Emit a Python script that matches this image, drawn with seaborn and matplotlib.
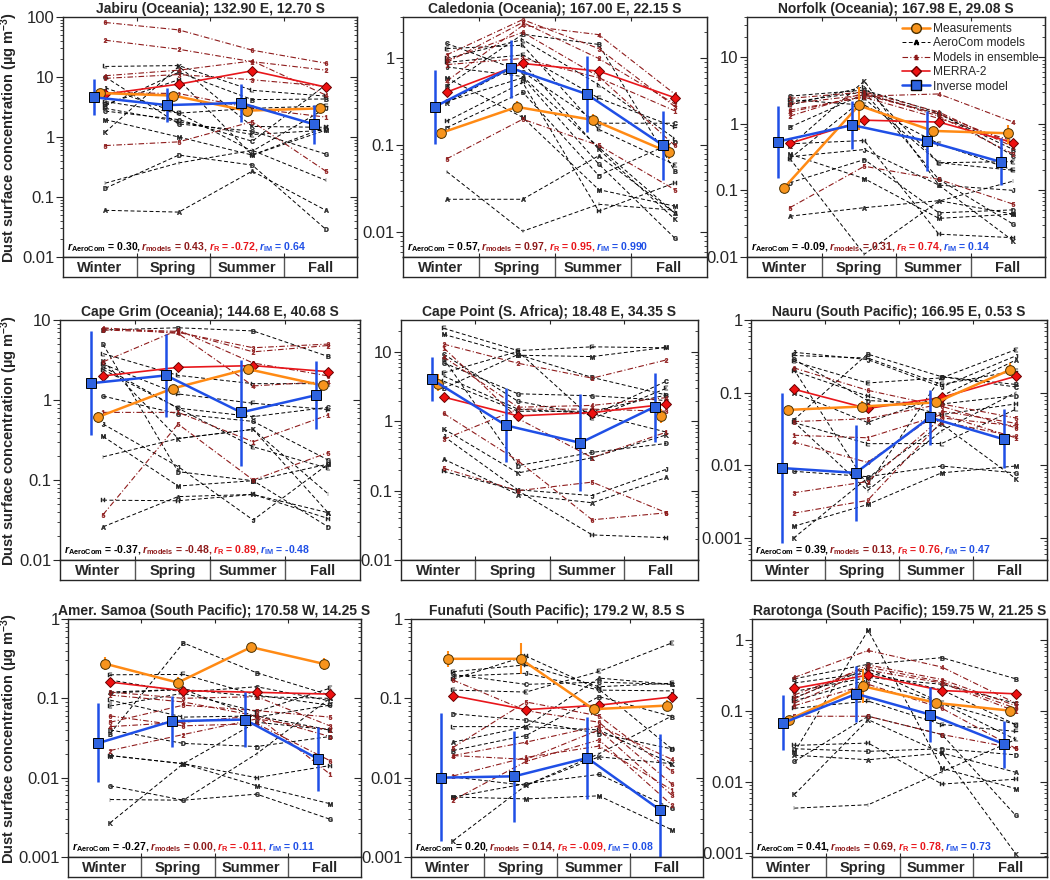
import numpy as np
import pandas as pd
import matplotlib
matplotlib.use("Agg")
import matplotlib.pyplot as plt
from matplotlib.lines import Line2D
from matplotlib.ticker import LogLocator, NullFormatter, FuncFormatter, FixedLocator
import seaborn as sns

sns.set_style("ticks")
plt.rcParams['font.family'] = ['Liberation Sans', 'DejaVu Sans']
plt.rcParams['mathtext.fontset'] = 'custom'
plt.rcParams['mathtext.rm'] = 'Liberation Sans:bold'
plt.rcParams['mathtext.it'] = 'Liberation Sans:italic:bold'
plt.rcParams['mathtext.bf'] = 'Liberation Sans:bold'

seasons = ["Winter", "Spring", "Summer", "Fall"]
letters = list("ABCDEFGHIJKLM")
ens_names = ["1", "2", "3", "4", "5", "6"]

titles = ["Jabiru (Oceania); 132.90 E, 12.70 S",
          "Caledonia (Oceania); 167.00 E, 22.15 S",
          "Norfolk (Oceania); 167.98 E, 29.08 S",
          "Cape Grim (Oceania); 144.68 E, 40.68 S",
          "Cape Point (S. Africa); 18.48 E, 34.35 S",
          "Nauru (South Pacific); 166.95 E, 0.53 S",
          "Amer. Samoa (South Pacific); 170.58 W, 14.25 S",
          "Funafuti (South Pacific); 179.2 W, 8.5 S",
          "Rarotonga (South Pacific); 159.75 W, 21.25 S"]

# measurements (orange) and their error range
meas = [[5.4, 4.9, 2.75, 3.0], [0.139, 0.277, 0.196, 0.083], [0.11, 1.88, 0.78, 0.72],
        [0.61, 1.39, 2.44, 1.52], [3.5, np.nan, np.nan, 1.2], [0.058, 0.0646, 0.0735, 0.206],
        [0.274, 0.158, 0.442, 0.271], [0.315, 0.315, 0.073, 0.081], [0.076, 0.226, 0.131, 0.102]]
meas_lo = [[4.8, 4.3, 2.4, 2.7], [0.12, 0.24, 0.17, 0.07], [0.1, 0.8, 0.7, 0.5],
           [0.52, 1.25, 2.2, 1.35], [2.7, np.nan, np.nan, 0.95], [0.05, 0.055, 0.063, 0.17],
           [0.23, 0.135, 0.39, 0.23], [0.25, 0.2, 0.065, 0.07], [0.07, 0.13, 0.12, 0.093]]
meas_hi = [[6.0, 5.6, 3.1, 3.3], [0.16, 0.32, 0.23, 0.1], [0.12, 3.5, 0.85, 0.95],
           [0.7, 1.55, 2.7, 1.7], [4.8, np.nan, np.nan, 1.5], [0.066, 0.078, 0.085, 0.26],
           [0.33, 0.185, 0.5, 0.32], [0.4, 0.5, 0.085, 0.095], [0.083, 0.39, 0.145, 0.112]]

merra2 = [[5.2, 7.6, 12.7, 6.8], [0.41, 0.876, 0.715, 0.354], [0.507, 1.13, 1.06, 0.52],
          [2.0, 2.56, 2.69, 2.26], [2.24, 1.2, 1.34, 1.77], [0.112, 0.0607, 0.086, 0.168],
          [0.16, 0.125, 0.119, 0.113], [0.108, 0.072, 0.082, 0.104], [0.21, 0.324, 0.196, 0.176]]

inverse = [[4.6, 3.4, 3.7, 1.63], [0.277, 0.78, 0.39, 0.101], [0.54, 0.955, 0.55, 0.266],
           [1.62, 2.03, 0.70, 1.15], [4.04, 0.875, 0.49, 1.62], [0.0092, 0.0079, 0.0456, 0.0229],
           [0.0273, 0.0515, 0.054, 0.0172], [0.01, 0.0104, 0.0177, 0.0039], [0.068, 0.176, 0.0897, 0.0345]]
inverse_lo = [[2.3, 1.75, 1.75, 0.77], [0.103, 0.35, 0.144, 0.04], [0.155, 0.42, 0.195, 0.122],
              [0.36, 0.62, 0.151, 0.43], [1.96, 0.256, 0.1, 0.51], [0.00085, 0.00173, 0.0193, 0.0091],
              [0.0087, 0.0242, 0.0247, 0.0067], [0.0016, 0.0028, 0.0054, 0.001], [0.0287, 0.07, 0.0368, 0.0157]]
inverse_hi = [[9.3, 6.6, 7.6, 3.4], [0.73, 1.65, 1.08, 0.25], [1.84, 2.2, 1.55, 0.62],
              [7.3, 6.7, 3.2, 3.1], [8.4, 3.06, 2.45, 5.05], [0.1, 0.0364, 0.11, 0.059],
              [0.088, 0.107, 0.12, 0.0436], [0.066, 0.0386, 0.058, 0.036], [0.168, 0.43, 0.219, 0.074]]

# correlation coefficients: AeroCom, models, MERRA-2 (R), inverse model (IM)
r_aerocom = ["0.30", "0.57", "-0.09", "-0.37", None, "0.39", "-0.27", "0.20", "0.41"]
r_models = ["0.43", "0.97", "0.31", "-0.48", None, "0.13", "0.00", "0.14", "0.69"]
r_merra = ["-0.72", "0.95", "0.74", "0.89", None, "0.76", "-0.11", "-0.09", "0.78"]
r_im = ["0.64", "0.990", "0.14", "-0.48", None, "0.47", "0.11", "0.08", "0.73"]

# AeroCom models A..M, one row per model (Winter, Spring, Summer, Fall)
aerocom_jabiru = [[0.06, 0.056, 0.27, 0.06], [3.3, 12, 4.2, 4.3], [2.7, 1.95, 0.85, 7.4],
                  [0.14, 0.5, 0.34, 0.029], [3.0, 1.8, 1.1, 1.3], [3.9, 2.5, 3.0, 3.3],
                  [10, 1.65, 1.25, 0.52], [3.5, 9, 0.5, 1.45], [0.17, 0.37, 0.6, 0.19],
                  [6.6, 2.5, 0.58, 3.0], [1.2, 15, 1.5, 1.45], [15, 15.5, 6, 4.8],
                  [1.95, 1.0, 0.5, 1.3]]
aerocom_caledonia = [[0.024, 0.024, 0.076, 0.0167], [0.48, 1.9, 1.45, 0.051], [1.49, 0.7, 0.18, 0.18],
                     [0.16, 0.41, 0.045, 0.11], [1.30, 1.42, 0.153, 0.06], [0.9, 1.1, 0.35, 0.163],
                     [0.32, 0.6, 0.061, 0.0086], [0.19, 0.53, 0.0175, 0.037], [0.05, 0.0103, 0.021, 0.018],
                     [0.8, 0.62, 0.095, 0.0167], [0.31, 0.9, 0.09, 0.0142], [1.0, 1.65, 0.5, 0.12],
                     [0.6, 0.21, 0.031, 0.02]]
aerocom_norfolk = [[0.041, 0.055, 0.07, 0.044], [0.89, 2.8, 1.4, 0.41], [2.6, 3.2, 1.46, 0.33],
                   [0.13, 0.29, 0.046, 0.051], [0.3, 2.4, 0.26, 0.27], [2.3, 1.9, 0.5, 0.2],
                   [2.1, 3.0, 0.146, 0.031], [0.5, 0.56, 0.022, 0.0195], [0.3, 0.011, 0.069, 0.138],
                   [0.32, 0.41, 0.12, 0.1], [0.46, 4.4, 0.12, 0.0174], [1.9, 3.6, 0.26, 0.2],
                   [0.35, 0.15, 0.038, 0.044]]
aerocom_capegrim = [[0.026, 0.062, 0.066, 0.039], [7.5, 8.0, 7.3, 3.5], [2.6, 0.79, 0.62, 0.81],
                    [4.96, 0.127, 0.098, 0.026], [2.4, 0.79, 0.26, 0.14], [2.8, 1.19, 0.91, 0.76],
                    [1.12, 0.67, 0.54, 0.178], [0.056, 0.055, 0.066, 0.033], [0.195, 0.33, 0.43, 0.067],
                    [0.5, 0.147, 0.0316, 0.158], [3.07, 0.33, 0.43, 0.039], [3.8, 2.03, 1.6, 1.6],
                    [0.35, 0.084, 0.098, 0.158]]
aerocom_capepoint = [[0.286, 0.088, 0.067, 0.155], [3.0, 9.2, 4.3, 2.4], [9.3, 1.95, 1.22, 3.8],
                     [8.0, 0.23, 0.357, 0.48], [5.0, 10.2, 1.1, 3.0], [22, 10.5, 11.9, 11.5],
                     [7.0, 2.5, 2.34, 2.0], [0.19, 0.1, 0.023, 0.021], [4.5, 1.5, 1.3, 0.7],
                     [0.61, 0.103, 0.085, 0.204], [0.78, 0.18, 0.3, 0.64], [3.8, 1.4, 1.4, 2.4],
                     [18, 9.0, 8.6, 11.7]]
aerocom_nauru = [[0.1, 0.039, 0.09, 0.28], [0.042, 0.34, 0.166, 0.13], [0.213, 0.0053, 0.166, 0.12],
                 [0.29, 0.078, 0.07, 0.091], [0.27, 0.136, 0.16, 0.39], [0.325, 0.3, 0.13, 0.2],
                 [0.0083, 0.007, 0.0098, 0.0079], [0.2, 0.09, 0.05, 0.07], [0.04, 0.0045, 0.03, 0.1],
                 [0.36, 0.286, 0.12, 0.32], [0.001, 0.0067, 0.037, 0.0066], [0.039, 0.0199, 0.02, 0.059],
                 [0.00145, 0.0029, 0.0079, 0.0098]]
aerocom_samoa = [[0.12, 0.13, 0.105, 0.1], [0.036, 0.5, 0.21, 0.11], [0.17, 0.12, 0.14, 0.093],
                 [0.04, 0.027, 0.0247, 0.033], [0.08, 0.116, 0.068, 0.134], [0.198, 0.2, 0.11, 0.082],
                 [0.0079, 0.0052, 0.0062, 0.003], [0.019, 0.015, 0.01, 0.0142], [0.0053, 0.0052, 0.02, 0.1],
                 [0.116, 0.13, 0.058, 0.082], [0.0027, 0.015, 0.05, 0.04], [0.095, 0.058, 0.06, 0.04],
                 [0.019, 0.015, 0.0079, 0.0047]]
aerocom_funafuti = [[0.028, 0.044, 0.18, 0.15], [0.022, 0.034, 0.105, 0.059], [0.2, 0.15, 0.16, 0.15],
                    [0.064, 0.053, 0.036, 0.023], [0.127, 0.12, 0.218, 0.5], [0.217, 0.264, 0.14, 0.155],
                    [0.0057, 0.0084, 0.011, 0.0041], [0.175, 0.34, 0.13, 0.023], [0.0102, 0.008, 0.02, 0.06],
                    [0.19, 0.207, 0.127, 0.124], [0.0016, 0.008, 0.0183, 0.015], [0.044, 0.044, 0.04, 0.015],
                    [0.0057, 0.0054, 0.0059, 0.0022]]
aerocom_rarotonga = [[0.024, 0.0207, 0.0257, 0.0138], [0.287, 0.46, 0.57, 0.287], [0.19, 0.3, 0.24, 0.13],
                     [0.0296, 0.0272, 0.0296, 0.0243], [0.155, 0.4, 0.13, 0.065], [0.11, 0.139, 0.065, 0.052],
                     [0.0196, 0.085, 0.047, 0.0034], [0.033, 0.0356, 0.0094, 0.011], [0.0043, 0.0048, 0.014, 0.04],
                     [0.25, 0.35, 0.2, 0.065], [0.0067, 0.076, 0.0257, 0.00098], [0.14, 0.28, 0.13, 0.04],
                     [0.0265, 1.39, 0.0157, 0.0081]]

# models in ensemble 1..6
ens_jabiru = [[5.5, 5.3, 3.0, 2.15], [41, 29, 18, 13], [9.5, 11, 9.0, 7.0],
              [10.5, 13, 18.5, 5.0], [0.72, 0.83, 1.8, 0.27], [81, 61, 28, 17]]
ens_caledonia = [[0.85, 1.0, 0.6, 0.25], [0.9, 2.6, 1.0, 0.30], [1.1, 2.8, 1.3, 0.28],
                 [0.55, 2.4, 1.88, 0.39], [0.07, 0.2, 0.1, 0.031], [0.95, 2.0, 0.62, 0.1]]
ens_norfolk = [[2.4, 3.0, 1.5, 0.45], [1.3, 2.9, 1.3, 0.35], [2.0, 2.7, 1.4, 0.5],
               [1.5, 2.6, 2.8, 1.06], [0.055, 0.23, 0.146, 0.062], [1.6, 2.5, 1.2, 0.55]]
ens_capegrim = [[0.7, 0.7, 0.3, 0.65], [7.8, 7.2, 4.0, 4.8], [7.5, 7.0, 4.5, 5.0],
                [8.0, 6.8, 1.5, 1.7], [0.037, 0.5, 0.1, 0.22], [3.0, 7.5, 2.9, 2.0]]
ens_capepoint = [[11.5, 1.1, 0.3, 0.7], [13, 6.9, 4.2, 7.7], [0.55, 1.5, 1.5, 1.4],
                 [8.5, 1.6, 1.7, 2.2], [0.21, 0.1, 0.133, 0.048], [1.3, 0.27, 0.038, 0.048]]
ens_nauru = [[0.026, 0.024, 0.05, 0.024], [0.0022, 0.0033, 0.04, 0.025], [0.0042, 0.006, 0.045, 0.035],
             [0.021, 0.011, 0.056, 0.038], [0.04, 0.044, 0.07, 0.045], [0.22, 0.108, 0.065, 0.033]]
ens_samoa = [[0.11, 0.09, 0.06, 0.0111], [0.022, 0.035, 0.055, 0.04], [0.12, 0.1, 0.105, 0.045],
             [0.044, 0.05, 0.06, 0.033], [0.05, 0.082, 0.07, 0.058], [0.06, 0.045, 0.048, 0.0164]]
ens_funafuti = [[0.0105, 0.018, 0.025, 0.007], [0.0052, 0.016, 0.03, 0.0045], [0.019, 0.017, 0.04, 0.006],
                [0.019, 0.028, 0.045, 0.017], [0.024, 0.09, 0.06, 0.012], [0.17, 0.07, 0.05, 0.0083]]
ens_rarotonga = [[0.13, 0.38, 0.25, 0.1], [0.15, 0.45, 0.28, 0.12], [0.17, 0.42, 0.26, 0.11],
                 [0.3, 0.72, 0.42, 0.13], [0.085, 0.085, 0.047, 0.03], [0.12, 0.24, 0.11, 0.03]]

aerocom = [aerocom_jabiru, aerocom_caledonia, aerocom_norfolk, aerocom_capegrim, aerocom_capepoint,
           aerocom_nauru, aerocom_samoa, aerocom_funafuti, aerocom_rarotonga]
ensemble = [ens_jabiru, ens_caledonia, ens_norfolk, ens_capegrim, ens_capepoint,
            ens_nauru, ens_samoa, ens_funafuti, ens_rarotonga]

# layout (pixels)
W, H = 1050, 880
col_lr = [[(63, 357), (403, 707), (747, 1045)],
          [(60, 360), (401, 698), (751, 1047)],
          [(68, 361), (411, 703), (752, 1047)]]
row_tb = [(17, 257), (320, 560), (619, 857)]
ylims = [(0.01, 100), (0.0052, 3.0), (0.01, 40), (0.01, 10), (0.01, 29),
         (0.0005, 1.0), (0.001, 1.0), (0.001, 1.0), (0.00088, 2.0)]

c_meas = '#F7941D'
c_merra = '#E8161B'
c_im = '#1F4FE6'
c_ens = '#8E1B1B'

off_im, off_model = -0.085, 0.075


def to_frame(rows, names):
    recs = []
    for name, vals in zip(names, rows):
        for i, v in enumerate(vals):
            recs.append((name, i + off_model, v))
    return pd.DataFrame(recs, columns=['model', 'x', 'value'])


def draw_site(k, ax):
    ax.set_yscale('log')
    x = np.arange(4)
    df_a = to_frame(aerocom[k], letters)
    df_e = to_frame(ensemble[k], ens_names)
    sns.lineplot(data=df_a, x='x', y='value', units='model', estimator=None, color='black',
                 lw=0.7, linestyle=(0, (4, 2.5)), ax=ax, legend=False)
    sns.lineplot(data=df_e, x='x', y='value', units='model', estimator=None, color=c_ens,
                 lw=0.8, linestyle=(0, (5, 2, 1, 2)), ax=ax, legend=False)
    for name, vals in zip(letters, aerocom[k]):
        ax.plot(x + off_model, vals, ls='none', marker=r'$\mathrm{%s}$' % name, ms=3.2,
                color='#222222', mew=0.3)
    for name, vals in zip(ens_names, ensemble[k]):
        ax.plot(x + off_model, vals, ls='none', marker=r'$\mathrm{%s}$' % name, ms=3.2,
                color=c_ens, mew=0.3)

    sns.lineplot(x=x + off_model, y=merra2[k], color=c_merra, lw=1.2, marker='D', ms=5.5,
                 mfc='#EE1111', mec='#6A0000', mew=0.7, ax=ax)

    m = np.array(meas[k])
    ax.errorbar(x, m, yerr=[m - np.array(meas_lo[k]), np.array(meas_hi[k]) - m], color='#FF8A14',
                lw=1.8, marker='o', ms=7, mfc=c_meas, mec='#4a3000', mew=0.7, elinewidth=1.5,
                capsize=0, zorder=4)
    im = np.array(inverse[k])
    ax.errorbar(x + off_im, im, yerr=[im - np.array(inverse_lo[k]), np.array(inverse_hi[k]) - im],
                color=c_im, lw=1.8, marker='s', ms=6.5, mfc='#2E63E0', mec='black', mew=0.7,
                elinewidth=1.8, capsize=0, zorder=5)

    ax.set_xlim(-0.5, 3.5)
    ax.set_ylim(*ylims[k])
    ax.set_xlabel('')
    ax.set_ylabel('')
    ax.xaxis.set_major_locator(FixedLocator([0.5, 1.5, 2.5]))
    ax.tick_params(axis='x', which='both', direction='in', top=True, bottom=True,
                   labelbottom=False, length=3)
    ax.yaxis.set_major_locator(LogLocator(base=10))
    ax.yaxis.set_minor_locator(LogLocator(base=10, subs=np.arange(2, 10)))
    ax.yaxis.set_major_formatter(FuncFormatter(lambda v, p: f"{v:g}"))
    ax.yaxis.set_minor_formatter(NullFormatter())
    ax.tick_params(axis='y', which='major', direction='out', length=5, labelsize=12, pad=1)
    ax.tick_params(axis='y', which='minor', direction='out', length=2.5)
    sec = ax.secondary_yaxis('right')
    sec.yaxis.set_major_locator(LogLocator(base=10))
    sec.yaxis.set_minor_locator(LogLocator(base=10, subs=np.arange(2, 10)))
    sec.tick_params(axis='y', which='both', direction='in', labelright=False)
    sec.tick_params(axis='y', which='major', length=5)
    sec.tick_params(axis='y', which='minor', length=2.5)
    for sp in ax.spines.values():
        sp.set_linewidth(1.0)
    ax.set_title(titles[k], fontsize=10, fontweight='bold', pad=3)

    if r_aerocom[k] is not None:
        parts = [(r"$r_{\mathrm{AeroCom}}$ = %s, " % r_aerocom[k], 'black'),
                 (r"$r_{\mathrm{models}}$ = %s, " % r_models[k], c_ens),
                 (r"$r_{\mathrm{R}}$ = %s, " % r_merra[k], c_merra),
                 (r"$r_{\mathrm{IM}}$ = %s" % r_im[k], c_im)]
        t = ax.text(0.012, 0.012, parts[0][0], transform=ax.transAxes, color=parts[0][1],
                    fontsize=7.6, fontweight='bold', va='bottom', ha='left', zorder=6)
        for s, c in parts[1:]:
            t = ax.annotate(s, xy=(1, 0), xycoords=t, va='bottom', ha='left', color=c,
                            fontsize=7.6, fontweight='bold', zorder=6)


def draw_seasons(ax):
    ax.set_xlim(-0.5, 3.5)
    ax.set_ylim(0, 1)
    ax.set_xticks([])
    ax.set_yticks([])
    for b in [0.5, 1.5, 2.5]:
        ax.axvline(b, color='#555555', lw=1.0)
    for i, s in enumerate(seasons):
        ax.text(i, 0.45, s, ha='center', va='center', fontsize=10.5, fontweight='bold')
    for sp in ax.spines.values():
        sp.set_linewidth(1.0)


fig = plt.figure(figsize=(W / 100, H / 100), dpi=100)

for k in range(9):
    r, c = divmod(k, 3)
    l, rr = col_lr[r][c]
    t, b = row_tb[r]
    ax = fig.add_axes([l / W, 1 - b / H, (rr - l) / W, (b - t) / H])
    draw_site(k, ax)
    axs = fig.add_axes([l / W, 1 - (b + 20) / H, (rr - l) / W, 20 / H])
    draw_seasons(axs)
    if c == 0:
        fig.text(9 / W, 1 - (t + b) / 2 / H, "Dust surface concentration (µg m$^{-3}$)",
                 rotation=90, ha='center', va='center', fontsize=10.5, fontweight='bold')
    if k == 2:
        handles = [Line2D([], [], color='#FF8A14', lw=1.8, marker='o', ms=7, mfc=c_meas, mec='#4a3000'),
                   Line2D([], [], color='black', lw=0.7, ls=(0, (4, 2.5)), marker=r'$\mathrm{A}$', ms=3),
                   Line2D([], [], color=c_ens, lw=0.8, ls=(0, (5, 2, 1, 2)), marker=r'$\mathrm{1}$', ms=3),
                   Line2D([], [], color=c_merra, lw=1.2, marker='D', ms=5.5, mfc='#EE1111', mec='#6A0000'),
                   Line2D([], [], color=c_im, lw=1.8, marker='s', ms=6.5, mfc='#2E63E0', mec='black')]
        ax.legend(handles, ["Measurements", "AeroCom models", "Models in ensemble", "MERRA-2",
                            "Inverse model"], loc='upper right', frameon=False, fontsize=8.6,
                  handlelength=2.3, handletextpad=0.3, labelspacing=0.2, borderpad=0.3,
                  borderaxespad=0.2)

fig.savefig("out.png", dpi=100)
